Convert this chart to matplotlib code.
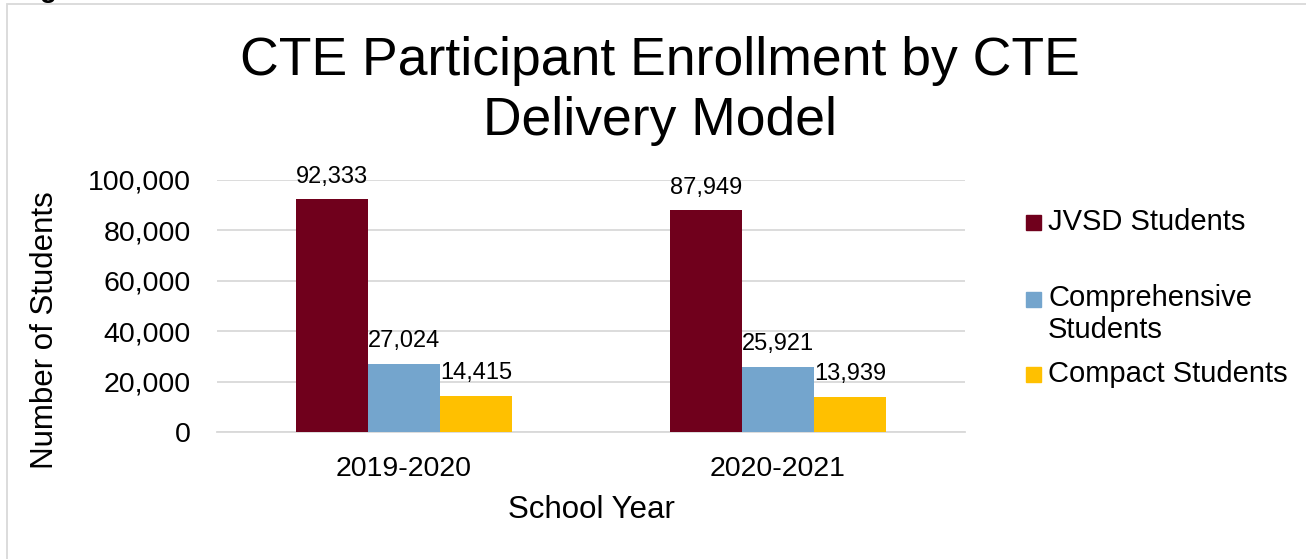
import matplotlib
matplotlib.use('AGG')
import matplotlib.pyplot as plt
from matplotlib.patches import Rectangle
import numpy as np

plt.rcParams['font.family'] = ['Liberation Sans', 'DejaVu Sans']

# enrollment by school year and delivery model
years = ['2019-2020', '2020-2021']
series_names = ['JVSD Students', 'Comprehensive\nStudents', 'Compact Students']
jvsd = [92333, 87949]
comprehensive = [27024, 25921]
compact = [14415, 13939]
y_ticks = [0, 20000, 40000, 60000, 80000, 100000]

colors = ['#70001C', '#74A5CD', '#FFC000']

fig = plt.figure(figsize=(13.06, 5.59), dpi=100)
ax = fig.add_axes([217 / 1306, 1 - 432 / 559, 748 / 1306, 252 / 559])

x = np.arange(len(years))
w = 0.1925
for i, (vals, col) in enumerate(zip([jvsd, comprehensive, compact], colors)):
    bars = ax.bar(x + (i - 1) * w, vals, width=w, color=col, zorder=3)
    for b, v in zip(bars, vals):
        ax.annotate('{:,}'.format(v), (b.get_x() + b.get_width() / 2, v),
                    xytext=(0, 12), textcoords='offset points',
                    ha='center', va='baseline', fontsize=17, zorder=4)

ax.set_xlim(-0.5, 1.5)
ax.set_ylim(0, 100000)
ax.set_yticks(y_ticks)
ax.set_yticklabels(['{:,}'.format(t) for t in y_ticks])
ax.set_xticks(x)
ax.set_xticklabels(years)
ax.tick_params(axis='y', length=0, pad=19, labelsize=20.5)
ax.tick_params(axis='x', length=0, pad=17, labelsize=20.5)
ax.grid(axis='y', color='#D9D9D9', linewidth=1.3, zorder=0)
for s in ['top', 'right', 'left']:
    ax.spines[s].set_visible(False)
ax.spines['bottom'].set_color('#D9D9D9')
ax.spines['bottom'].set_linewidth(1.3)

ax.set_ylabel('Number of Students', fontsize=22.5)
ax.yaxis.set_label_coords(-0.21, 0.405)
ax.set_xlabel('School Year', fontsize=22.5)
ax.xaxis.set_label_coords(0.5, -0.25)

fig.text(660 / 1306, 1 - 91 / 559, 'CTE Participant Enrollment by CTE\nDelivery Model',
         ha='center', va='center', fontsize=38.5, linespacing=1.24)

# legend drawn by hand so the two-line entry lines up like the original
legend_y = [222, 314, 374]
for name, col, ly in zip(series_names, colors, legend_y):
    sq_y = ly if '\n' not in name else 299
    fig.patches.append(Rectangle((1026 / 1306, 1 - (sq_y + 7.5) / 559), 15 / 1306, 15 / 559,
                                 transform=fig.transFigure, color=col))
    fig.text(1048 / 1306, 1 - ly / 559, name, ha='left', va='center',
             fontsize=21, linespacing=1.2)

# chart frame
fig.patches.append(Rectangle((7 / 1306, -0.1), 1.2, 1.1 - 4.5 / 559, transform=fig.transFigure,
                             fill=False, edgecolor='#D9D9D9', linewidth=1.3))
fig.text(40 / 1306, 1 + 3 / 559, 'g', fontsize=20, fontweight='bold', va='baseline')

plt.savefig('out.png', dpi=100)
plt.close('all')
